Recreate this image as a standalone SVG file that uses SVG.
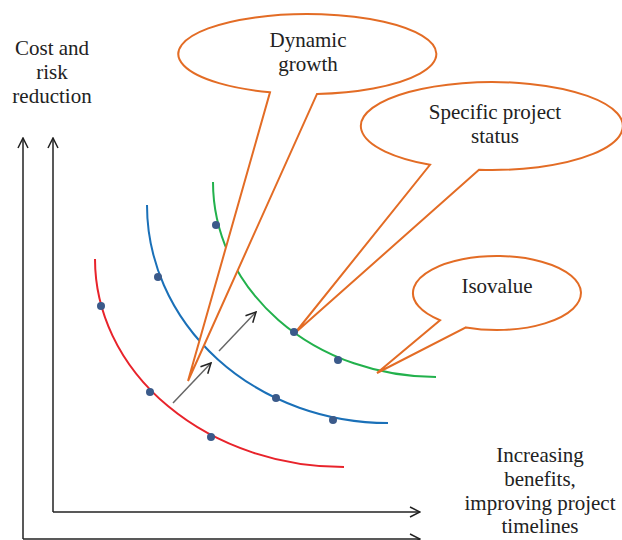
<svg xmlns="http://www.w3.org/2000/svg" width="622" height="540" viewBox="0 0 622 540">
<style>
text{font-family:'Liberation Serif','DejaVu Serif',serif;font-size:21px;fill:#222;text-anchor:middle}
.axis{stroke:#222;stroke-width:1.5;fill:none}
.callout{fill:#fff;stroke:#e36c25;stroke-width:2;stroke-linejoin:miter}
.curve{fill:none;stroke-width:2}
.dot{fill:#3b5a8a}
.move{stroke:#666;stroke-width:1.5;fill:none}
</style>
<defs>
<marker id="open" viewBox="0 0 12 12" refX="11" refY="6" markerWidth="12" markerHeight="12" markerUnits="userSpaceOnUse" orient="auto">
<path d="M1,1 L11,6 L1,11" fill="none" stroke="#222" stroke-width="1.5"/>
</marker>
</defs>
<g id="axes">
<path class="axis" d="M23,539 L23,138" marker-end="url(#open)"/>
<path class="axis" d="M23,539 L420,539" marker-end="url(#open)"/>
<path class="axis" d="M53,512 L53,138" marker-end="url(#open)"/>
<path class="axis" d="M53,512 L420,512" marker-end="url(#open)"/>
</g>
<g id="label-y">
<text x="52" y="55">Cost and</text>
<text x="52" y="79">risk</text>
<text x="52" y="103">reduction</text>
</g>
<g id="label-x">
<text x="540" y="462">Increasing</text>
<text x="540" y="486">benefits,</text>
<text x="540" y="510">improving project</text>
<text x="540" y="533">timelines</text>
</g>
<g id="curve-red">
<path class="curve" stroke="#e8232b" d="M95,259 A249,208 0 0 0 344,467"/>
<circle class="dot" cx="101" cy="306" r="4"/>
<circle class="dot" cx="150" cy="392" r="4"/>
<circle class="dot" cx="211" cy="437" r="4"/>
</g>
<g id="curve-blue">
<path class="curve" stroke="#1a70b8" d="M147,205 A241,218 0 0 0 388,423"/>
<circle class="dot" cx="158" cy="277" r="4"/>
<circle class="dot" cx="276" cy="398" r="4"/>
<circle class="dot" cx="333" cy="420" r="4"/>
</g>
<g id="curve-green">
<path class="curve" stroke="#22b14c" d="M213,182 A223,195 0 0 0 436,377"/>
<circle class="dot" cx="216" cy="225" r="4"/>
<circle class="dot" cx="338" cy="360" r="4"/>
</g>
<g id="connectors">
<path class="move" d="M173,403 L211,363" marker-end="url(#open)"/>
<path class="move" d="M219,351 L256,312" marker-end="url(#open)"/>
</g>
<g id="callout-dynamic">
<path class="callout" d="M270,92.3 A129,40 0 1 1 317,93.9 L188,381 Z"/>
<text x="308" y="47">Dynamic</text>
<text x="308" y="71">growth</text>
</g>
<g id="callout-status">
<path class="callout" d="M430,164.8 A131,44 0 1 1 479,169.8 L295,333 Z"/>
<circle class="dot" cx="294" cy="332" r="4"/>
<text x="495" y="119">Specific project</text>
<text x="495" y="143">status</text>
</g>
<g id="callout-isovalue">
<path class="callout" d="M440,320.2 A84,37 0 1 1 466,327.4 L377,373 Z"/>
<text x="497" y="293">Isovalue</text>
</g>
</svg>
